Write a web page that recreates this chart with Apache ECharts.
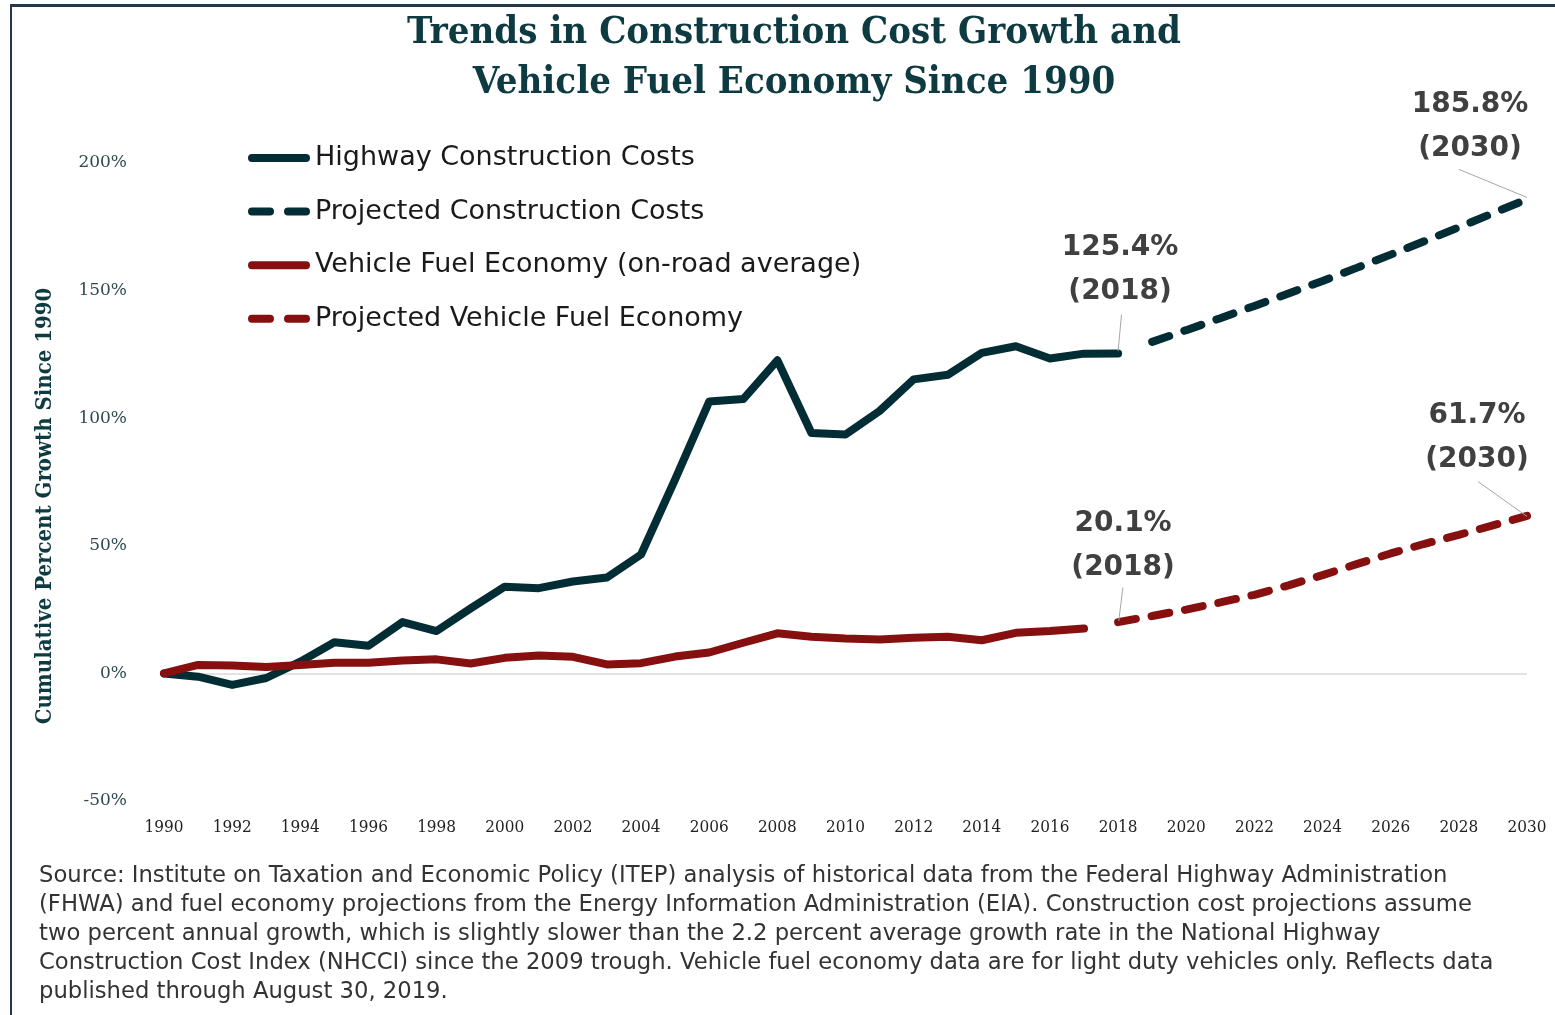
<!DOCTYPE html>
<html>
<head>
<meta charset="utf-8">
<title>Construction Cost Growth and Vehicle Fuel Economy</title>
<script src="https://cdn.jsdelivr.net/npm/echarts@6/dist/echarts.min.js"></script>
<style>
  html, body { margin: 0; padding: 0; background: #fff; }
  #frame {
    position: absolute; left: 10px; top: 4px; right: 0; bottom: 0;
    border-top: 3px solid #27374b; border-left: 2px solid #27374b;
  }
  #chart { position: absolute; left: 0; top: 0; width: 1555px; height: 1015px; }
</style>
</head>
<body>
<div id="frame"></div>
<div id="chart"></div>
<script>
// years
const histCostYears = [1990, 1991, 1992, 1993, 1994, 1995, 1996, 1997, 1998, 1999, 2000, 2001, 2002, 2003, 2004,
  2005, 2006, 2007, 2008, 2009, 2010, 2011, 2012, 2013, 2014, 2015, 2016, 2017, 2018]
const projCostYears = [2019, 2020, 2021, 2022, 2023, 2024, 2025, 2026, 2027, 2028, 2029, 2030]
const histFuelYears = [1990, 1991, 1992, 1993, 1994, 1995, 1996, 1997, 1998, 1999, 2000, 2001, 2002, 2003, 2004,
  2005, 2006, 2007, 2008, 2009, 2010, 2011, 2012, 2013, 2014, 2015, 2016, 2017]
const projFuelYears = [2018, 2019, 2020, 2021, 2022, 2023, 2024, 2025, 2026, 2027, 2028, 2029, 2030]

// cumulative % growth since 1990
const highwayCosts = [0, -1.3, -4.5, -1.8, 4.6, 12.2, 10.8, 20.1, 16.6, 25.5, 34.0, 33.4, 36.0, 37.6, 46.6,
  76.0, 106.5, 107.5, 122.7, 94.2, 93.6, 102.8, 115.2, 117.0, 125.6, 128.2, 123.4, 125.3, 125.4]
const projectedCosts = [129.9, 134.5, 139.2, 144.0, 148.9, 153.8, 158.9, 164.1, 169.4, 174.8, 180.3, 185.8]
const fuelEconomy = [0, 3.3, 3.1, 2.5, 3.3, 4.2, 4.2, 5.1, 5.5, 3.9, 6.1, 7.0, 6.5, 3.5, 4.0,
  6.6, 8.2, 12.0, 15.7, 14.4, 13.7, 13.3, 14.0, 14.4, 13.0, 15.9, 16.6, 17.6]
const projectedFuel = [20.1, 22.5, 25.0, 27.8, 30.8, 34.5, 38.5, 42.8, 47.0, 50.8, 54.3, 58.0, 61.7]

const yTicks = [-50, 0, 50, 100, 150, 200]

const seriesNames = ['Highway Construction Costs', 'Projected Construction Costs',
  'Vehicle Fuel Economy (on-road average)', 'Projected Vehicle Fuel Economy']

const sourceLines = [
  'Source: Institute on Taxation and Economic Policy (ITEP) analysis of historical data from the Federal Highway Administration',
  '(FHWA) and fuel economy projections from the Energy Information Administration (EIA). Construction cost projections assume',
  'two percent annual growth, which is slightly slower than the 2.2 percent average growth rate in the National Highway',
  'Construction Cost Index (NHCCI) since the 2009 trough. Vehicle fuel economy data are for light duty vehicles only. Reflects data',
  'published through August 30, 2019.'
]

const DARK = '#032d34'
const RED = '#86100f'
const ANNOT = '#404040'

// legend icons: a rounded bar, and two rounded dashes
const SOLID_ICON = 'path://M4,0H58A4,4 0 0 1 58,8H4A4,4 0 0 1 4,0Z'
const DASH_ICON = 'path://M4,0H22A4,4 0 0 1 22,8H4A4,4 0 0 1 4,0Z M40,0H58A4,4 0 0 1 58,8H40A4,4 0 0 1 40,0Z'

function pairs(xs, ys) {
  return xs.map((x, i) => [x, ys[i]])
}

// value callout above a point
function callout(x, y, text, offset, distance) {
  return {
    coord: [x, y],
    symbol: 'circle',
    symbolSize: 1,
    itemStyle: { color: 'rgba(0,0,0,0)' },
    label: {
      show: true,
      position: 'top',
      distance: distance,
      offset: offset,
      formatter: text,
      color: ANNOT,
      fontFamily: 'DejaVu Sans',
      fontWeight: 'bold',
      fontSize: 28,
      lineHeight: 44,
      align: 'center'
    }
  }
}

function leader(a, b) {
  return [{ coord: a }, { coord: b }]
}

const leaderStyle = { color: '#a6a6a6', width: 1, type: 'solid' }

const chart = echarts.init(document.getElementById('chart'), null, { renderer: 'canvas' })

chart.setOption({
  animation: false,
  title: [{
    text: 'Trends in Construction Cost Growth and\nVehicle Fuel Economy Since 1990',
    left: 789,
    textAlign: 'center',
    top: 3,
    textStyle: {
      fontFamily: 'DejaVu Serif Condensed, DejaVu Serif',
      fontWeight: 'bold',
      fontSize: 38,
      lineHeight: 50,
      color: '#0e3b41'
    }
  }, {
    text: sourceLines.join('\n'),
    left: 34,
    top: 857,
    textStyle: {
      fontFamily: 'DejaVu Sans',
      fontWeight: 'normal',
      fontSize: 22.7,
      lineHeight: 29,
      color: '#333333'
    }
  }],
  legend: {
    orient: 'vertical',
    left: 248,
    top: 143,
    padding: 0,
    itemWidth: 62,
    itemHeight: 9,
    itemGap: 23.6,
    data: [
      { name: seriesNames[0], icon: SOLID_ICON },
      { name: seriesNames[1], icon: DASH_ICON },
      { name: seriesNames[2], icon: SOLID_ICON },
      { name: seriesNames[3], icon: DASH_ICON }
    ],
    textStyle: {
      fontFamily: 'DejaVu Sans',
      fontSize: 27,
      lineHeight: 30,
      color: '#1a1a1a'
    }
  },
  grid: {
    left: 164,
    right: 28,
    top: 163,
    bottom: 214
  },
  xAxis: {
    type: 'value',
    min: 1990,
    max: 2030,
    interval: 2,
    axisLine: { show: false },
    axisTick: { show: false },
    splitLine: { show: false },
    axisLabel: {
      margin: 18,
      color: '#222',
      fontFamily: 'DejaVu Serif Condensed, DejaVu Serif',
      fontSize: 17,
      formatter: v => String(v)
    }
  },
  yAxis: {
    type: 'value',
    min: yTicks[0],
    max: yTicks[yTicks.length - 1],
    interval: 50,
    name: 'Cumulative Percent Growth Since 1990',
    nameLocation: 'middle',
    nameGap: 108,
    nameTextStyle: {
      fontFamily: 'DejaVu Serif Condensed, DejaVu Serif',
      fontWeight: 'bold',
      fontSize: 22,
      color: '#0e3b41',
      padding: [0, 48, 0, 0]
    },
    axisLine: { show: false },
    axisTick: { show: false },
    axisLabel: {
      margin: 37,
      color: '#2e4b50',
      fontFamily: 'DejaVu Serif',
      fontSize: 17,
      formatter: '{value}%'
    },
    splitLine: {
      show: true,
      // only the 0% line is drawn
      lineStyle: {
        color: yTicks.map(t => (t === 0 ? '#d9d9d9' : 'rgba(0,0,0,0)')),
        width: 1.5
      }
    }
  },
  series: [{
    name: seriesNames[0],
    type: 'line',
    symbol: 'none',
    data: pairs(histCostYears, highwayCosts),
    lineStyle: { color: DARK, width: 8, cap: 'round', join: 'round' },
    itemStyle: { color: DARK },
    markPoint: {
      silent: true,
      data: [callout(2018, highwayCosts[highwayCosts.length - 1], '125.4%\n(2018)', [2, 0], 39)]
    },
    markLine: {
      silent: true,
      symbol: 'none',
      label: { show: false },
      lineStyle: leaderStyle,
      data: [leader([2018.1, 140.6], [2018.0, 126.3])]
    }
  }, {
    name: seriesNames[1],
    type: 'line',
    symbol: 'none',
    data: pairs(projCostYears, projectedCosts),
    lineStyle: { color: DARK, width: 8, type: [18, 16], cap: 'round' },
    itemStyle: { color: DARK },
    markPoint: {
      silent: true,
      data: [callout(2030, projectedCosts[projectedCosts.length - 1], '185.8%\n(2030)', [-57, -23], 5)]
    },
    markLine: {
      silent: true,
      symbol: 'none',
      label: { show: false },
      lineStyle: leaderStyle,
      data: [leader([2028.0, 197.5], [2030, 186.5])]
    }
  }, {
    name: seriesNames[2],
    type: 'line',
    symbol: 'none',
    data: pairs(histFuelYears, fuelEconomy),
    lineStyle: { color: RED, width: 8, cap: 'round', join: 'round' },
    itemStyle: { color: RED }
  }, {
    name: seriesNames[3],
    type: 'line',
    symbol: 'none',
    data: pairs(projFuelYears, projectedFuel),
    lineStyle: { color: RED, width: 8, type: [18, 16], cap: 'round' },
    itemStyle: { color: RED },
    markPoint: {
      silent: true,
      data: [
        callout(2018, projectedFuel[0], '20.1%\n(2018)', [5, 0], 32),
        callout(2030, projectedFuel[projectedFuel.length - 1], '61.7%\n(2030)', [-50, -29], 5)
      ]
    },
    markLine: {
      silent: true,
      symbol: 'none',
      label: { show: false },
      lineStyle: leaderStyle,
      data: [
        leader([2018.14, 33.7], [2018.02, 20.6]),
        leader([2028.56, 75.2], [2030, 61.5])
      ]
    }
  }]
})
</script>
</body>
</html>
